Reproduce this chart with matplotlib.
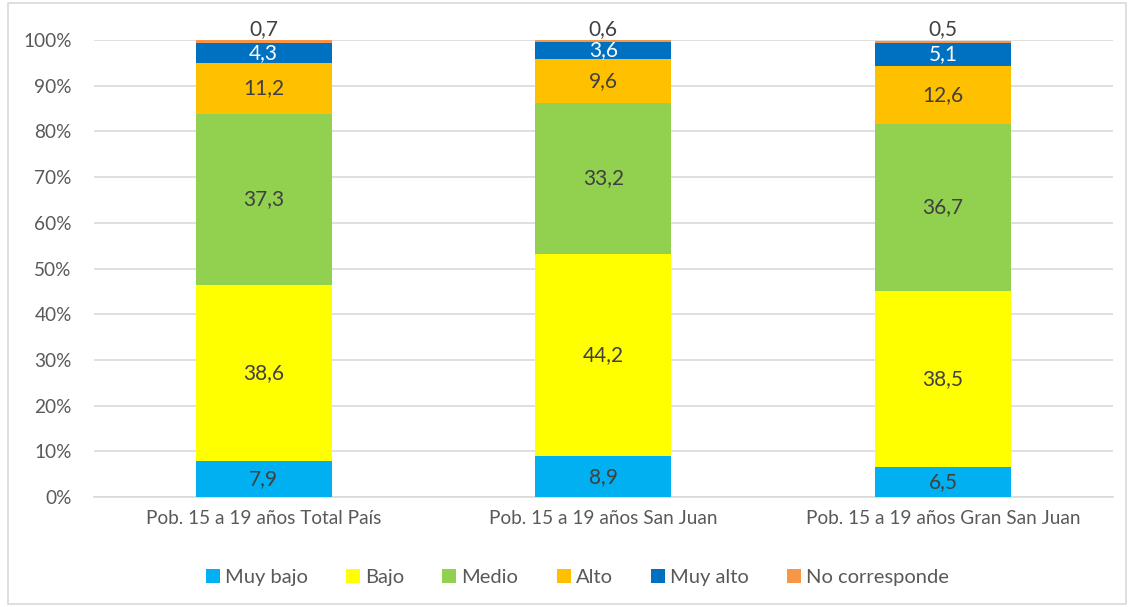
import numpy as np
import matplotlib.pyplot as plt
from matplotlib.patches import Rectangle

categories = ['Pob. 15 a 19 años Total País', 'Pob. 15 a 19 años San Juan',
              'Pob. 15 a 19 años Gran San Juan']
series = ['Muy bajo', 'Bajo', 'Medio', 'Alto', 'Muy alto', 'No corresponde']
muy_bajo = [7.9, 8.9, 6.5]
bajo = [38.6, 44.2, 38.5]
medio = [37.3, 33.2, 36.7]
alto = [11.2, 9.6, 12.6]
muy_alto = [4.3, 3.6, 5.1]
no_corresponde = [0.7, 0.6, 0.5]

values = [muy_bajo, bajo, medio, alto, muy_alto, no_corresponde]
colors = ['#00B0F0', '#FFFF00', '#92D050', '#FFC000', '#0070C0', '#F79646']
label_colors = ['#404040', '#404040', '#404040', '#404040', 'white', '#404040']

plt.rcParams['font.family'] = ['Lato', 'DejaVu Sans']

fig = plt.figure(figsize=(11.32, 6.07), dpi=100)
ax = fig.add_axes([0.083, 0.181, 0.9, 0.753])

x = np.arange(len(categories))
bottom = np.zeros(len(categories))
for i, (name, vals) in enumerate(zip(series, values)):
    vals = np.array(vals)
    ax.bar(x, vals, 0.4, bottom=bottom, color=colors[i], label=name, zorder=3)
    for xi, b, v in zip(x, bottom, vals):
        if name == 'No corresponde':
            ypos = 100 + 2.4
        else:
            ypos = b + v / 2
        ax.text(xi, ypos, ('%.1f' % v).replace('.', ','), ha='center', va='center',
                fontsize=15, color=label_colors[i], zorder=4)
    bottom += vals

ax.set_xlim(-0.5, 2.5)
ax.set_ylim(0, 100)
ax.set_yticks(np.arange(0, 101, 10))
ax.set_yticklabels(['%d%%' % t for t in range(0, 101, 10)])
ax.set_xticks(x)
ax.set_xticklabels(categories)
ax.grid(axis='y', color='#D9D9D9', linewidth=1.2, zorder=0)
for s in ['top', 'right', 'left']:
    ax.spines[s].set_visible(False)
ax.spines['bottom'].set_color('#D9D9D9')
ax.spines['bottom'].set_linewidth(1.2)
ax.tick_params(axis='both', length=0, labelsize=13.7, labelcolor='#595959')
ax.tick_params(axis='y', pad=16)
ax.tick_params(axis='x', pad=9)

ax.legend(loc='center', bbox_to_anchor=(0.51, 0.049), bbox_transform=fig.transFigure,
          ncol=6, frameon=False, fontsize=14.5, handlelength=0.7, handleheight=0.7,
          handletextpad=0.25, columnspacing=1.9, labelcolor='#595959')

fig.patches.append(Rectangle((0.007, 0.005), 0.988, 0.99, transform=fig.transFigure,
                             fill=False, edgecolor='#D9D9D9', linewidth=1.2))

fig.savefig('out.png', dpi=100)
